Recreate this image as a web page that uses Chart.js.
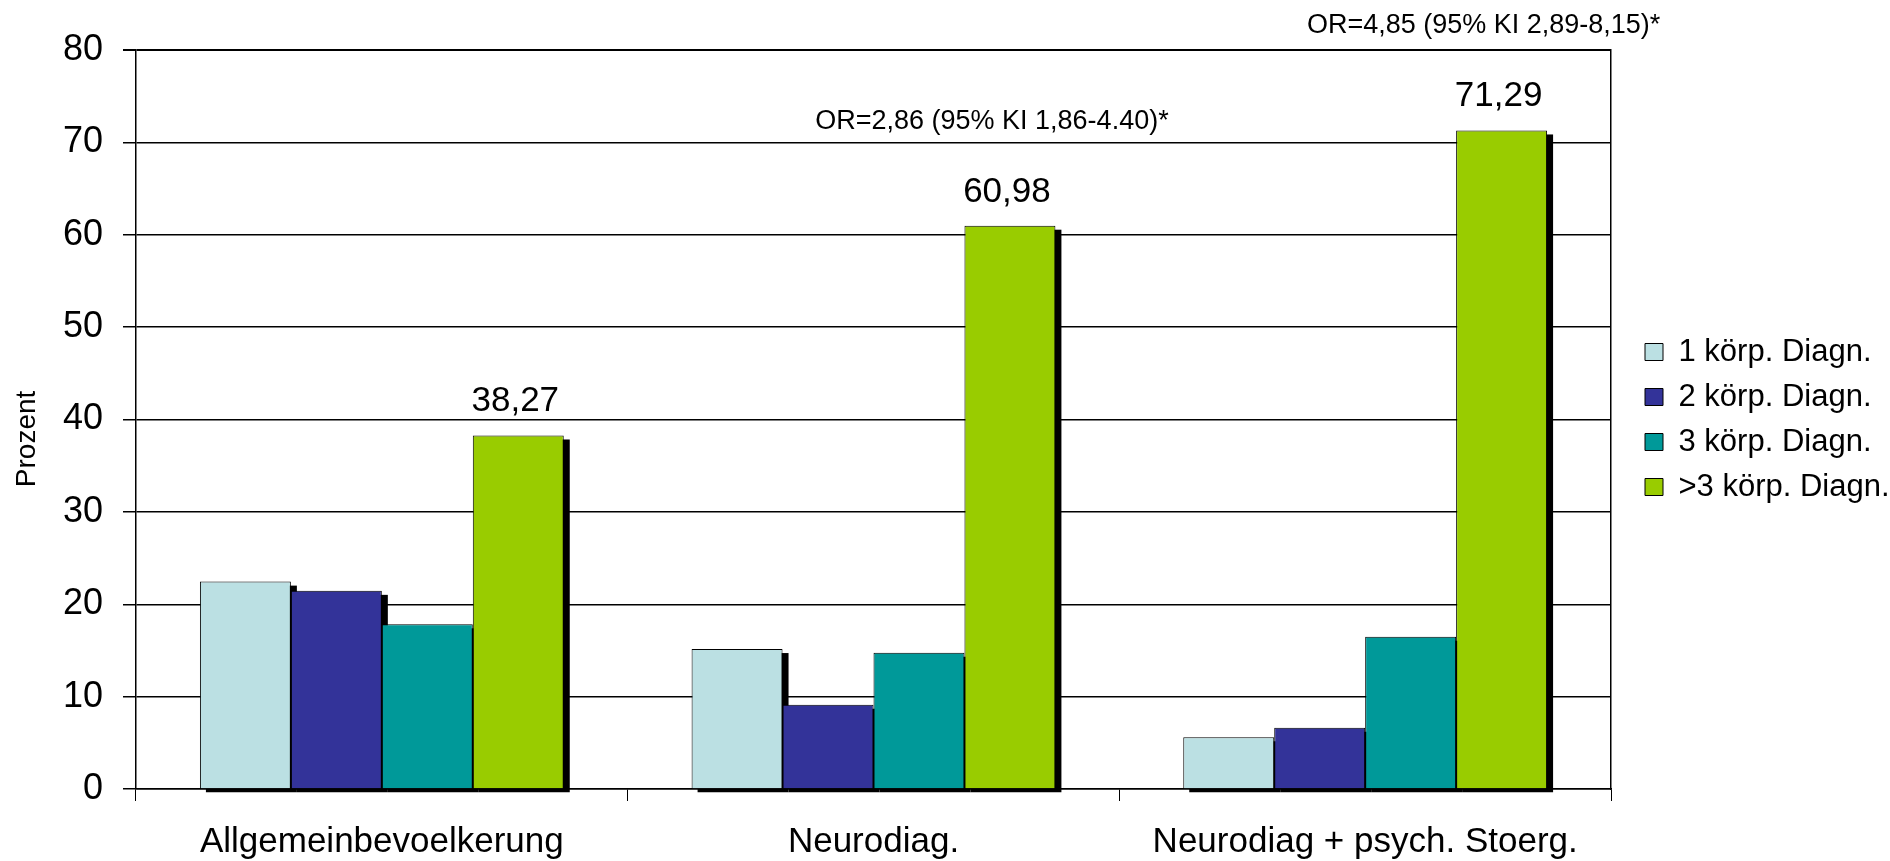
<!DOCTYPE html>
<html>
<head>
<meta charset="utf-8">
<script src="https://cdn.jsdelivr.net/npm/chart.js@4.4.1/dist/chart.umd.min.js"></script>
<style>
  html, body { margin: 0; padding: 0; background: #ffffff; }
  #wrap { width: 1890px; height: 861px; }
</style>
</head>
<body>
<div id="wrap"><canvas id="chart" width="1890" height="861"></canvas></div>
<script>
// Groups and series
const categories = ['Allgemeinbevoelkerung', 'Neurodiag.', 'Neurodiag + psych. Stoerg.'];
const seriesNames = ['1 körp. Diagn.', '2 körp. Diagn.', '3 körp. Diagn.', '>3 körp. Diagn.'];

// Share of people (%) by number of somatic diagnoses
const oneDiag = [22.45, 15.15, 5.60];
const twoDiag = [21.45, 9.12, 6.63];
const threeDiag = [17.83, 14.75, 16.48];
const moreDiag = [38.27, 60.98, 71.29];

// Odds-ratio notes placed above the ">3" bars
const oddsRatioNotes = ['', 'OR=2,86 (95% KI 1,86-4.40)*', 'OR=4,85 (95% KI 2,89-8,15)*'];

// Value axis
const yMin = 0;
const yMax = 80;
const yStep = 10;

const seriesColors = ['#BBE0E3', '#333399', '#009999', '#99CC00'];
const FONT = "'Liberation Sans', Arial, Helvetica, sans-serif";

Chart.defaults.font.family = FONT;
Chart.defaults.color = '#000';

// Black drop shadow behind every bar (offset right/down)
const barShadow = {
  id: 'barShadow',
  beforeDatasetsDraw(chart) {
    const ctx = chart.ctx;
    ctx.save();
    ctx.fillStyle = '#000';
    chart.data.datasets.forEach((ds, i) => {
      const meta = chart.getDatasetMeta(i);
      if (meta.hidden) return;
      meta.data.forEach(bar => {
        const p = bar.getProps(['x', 'y', 'base', 'width'], true);
        ctx.fillRect(p.x - p.width / 2 + 6, p.y + 4, p.width, p.base - p.y);
      });
    });
    ctx.restore();
  }
};

// Value labels on the ">3" series and the odds-ratio notes above them
const topLabels = {
  id: 'topLabels',
  afterDatasetsDraw(chart) {
    const ctx = chart.ctx;
    const last = chart.data.datasets.length - 1;
    const meta = chart.getDatasetMeta(last);
    const values = chart.data.datasets[last].data;
    ctx.save();
    ctx.fillStyle = '#000';
    ctx.textAlign = 'center';
    ctx.textBaseline = 'alphabetic';
    meta.data.forEach((bar, i) => {
      const txt = values[i].toFixed(2).replace('.', ',');
      ctx.font = '35px ' + FONT;
      ctx.fillText(txt, bar.x - 3, bar.y - 24);
      if (oddsRatioNotes[i]) {
        ctx.font = '27px ' + FONT;
        ctx.fillText(oddsRatioNotes[i], bar.x - 18, bar.y - 97);
      }
    });
    ctx.restore();
  }
};

const seriesData = [oneDiag, twoDiag, threeDiag, moreDiag];

new Chart(document.getElementById('chart'), {
  type: 'bar',
  data: {
    labels: categories,
    datasets: seriesNames.map((name, i) => ({
      label: name,
      data: seriesData[i],
      backgroundColor: seriesColors[i],
      borderColor: '#000',
      borderWidth: 1,
      categoryPercentage: 0.74,
      barPercentage: 1.0
    }))
  },
  options: {
    responsive: false,
    animation: false,
    devicePixelRatio: 1,
    layout: { padding: { top: 50, bottom: 0, left: 0, right: 0 } },
    plugins: {
      tooltip: { enabled: false },
      legend: {
        position: 'right',
        fullSize: false,
        maxWidth: 259,
        labels: {
          boxWidth: 18,
          boxHeight: 17,
          padding: 14,
          color: '#000',
          font: { size: 31, family: FONT }
        }
      }
    },
    scales: {
      x: {
        offset: true,
        grid: { display: true, drawOnChartArea: false, offset: true, color: '#000', lineWidth: 1, tickLength: 12 },
        border: { display: true, color: '#000', width: 1.5 },
        ticks: { color: '#000', font: { size: 35, family: FONT }, padding: 20, maxRotation: 0, autoSkip: false },
        afterFit: s => { s.height = 72; }
      },
      y: {
        min: yMin,
        max: yMax,
        ticks: { stepSize: yStep, color: '#000', font: { size: 36, family: FONT }, padding: 20 },
        grid: {
          color: '#000',
          lineWidth: c => (c.tick && c.tick.value === yMax ? 2 : 1.5),
          tickLength: 13
        },
        border: { display: true, color: '#000', width: 1.5 },
        title: {
          display: true,
          text: 'Prozent\u00a0\u00a0\u00a0\u00a0\u00a0',
          color: '#000',
          font: { size: 28, family: FONT },
          padding: { top: 10, bottom: 0 }
        },
        afterFit: s => { s.width = 136; }
      },
      yRight: {
        position: 'right',
        min: yMin,
        max: yMax,
        grid: { display: false, drawTicks: false },
        ticks: { display: false },
        border: { display: true, color: '#000', width: 1.5 },
        afterFit: s => { s.width = 20; }
      }
    }
  },
  plugins: [barShadow, topLabels]
});
</script>
</body>
</html>
